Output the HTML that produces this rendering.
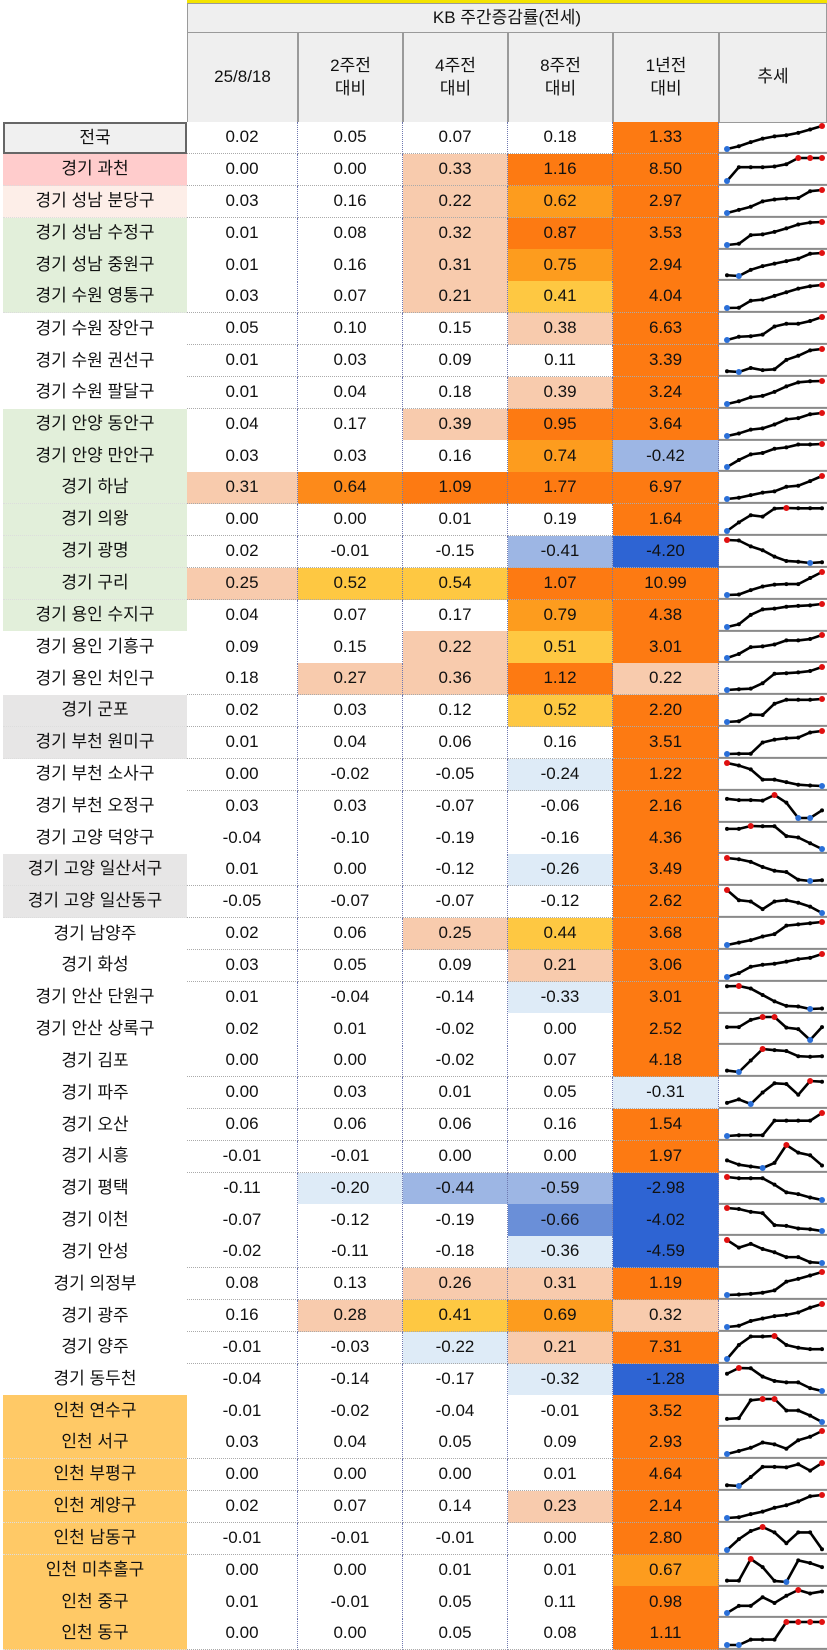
<!DOCTYPE html>
<html><head><meta charset="utf-8">
<style>
body{margin:0;width:827px;height:1650px;overflow:hidden;background:#fff;font-family:"Liberation Sans","Noto Sans CJK KR",sans-serif;color:#111}
#t{position:absolute;left:0;top:0;width:827px;height:1650px}
.c{position:absolute;box-sizing:border-box;display:flex;align-items:center;justify-content:center;font-size:17px;text-align:center;line-height:1.35}
.h{background:#efefef;border:1px solid #9a9a9a}
</style></head><body>
<div id="t">
<div class="c" style="left:187px;top:0;width:640px;height:3px;background:#f4e400"></div>
<div class="c h" style="left:187px;top:3px;width:640px;height:30px">KB 주간증감률(전세)</div>
</div>
<script>
const names=["전국","경기 과천","경기 성남 분당구","경기 성남 수정구","경기 성남 중원구","경기 수원 영통구","경기 수원 장안구","경기 수원 권선구","경기 수원 팔달구","경기 안양 동안구","경기 안양 만안구","경기 하남","경기 의왕","경기 광명","경기 구리","경기 용인 수지구","경기 용인 기흥구","경기 용인 처인구","경기 군포","경기 부천 원미구","경기 부천 소사구","경기 부천 오정구","경기 고양 덕양구","경기 고양 일산서구","경기 고양 일산동구","경기 남양주","경기 화성","경기 안산 단원구","경기 안산 상록구","경기 김포","경기 파주","경기 오산","경기 시흥","경기 평택","경기 이천","경기 안성","경기 의정부","경기 광주","경기 양주","경기 동두천","인천 연수구","인천 서구","인천 부평구","인천 계양구","인천 남동구","인천 미추홀구","인천 중구","인천 동구"];
const headers=["25/8/18","2주전<br>대비","4주전<br>대비","8주전<br>대비","1년전<br>대비","추세"];
const values=[
[0.02,0.05,0.07,0.18,1.33],[0.00,0.00,0.33,1.16,8.50],[0.03,0.16,0.22,0.62,2.97],[0.01,0.08,0.32,0.87,3.53],
[0.01,0.16,0.31,0.75,2.94],[0.03,0.07,0.21,0.41,4.04],[0.05,0.10,0.15,0.38,6.63],[0.01,0.03,0.09,0.11,3.39],
[0.01,0.04,0.18,0.39,3.24],[0.04,0.17,0.39,0.95,3.64],[0.03,0.03,0.16,0.74,-0.42],[0.31,0.64,1.09,1.77,6.97],
[0.00,0.00,0.01,0.19,1.64],[0.02,-0.01,-0.15,-0.41,-4.20],[0.25,0.52,0.54,1.07,10.99],[0.04,0.07,0.17,0.79,4.38],
[0.09,0.15,0.22,0.51,3.01],[0.18,0.27,0.36,1.12,0.22],[0.02,0.03,0.12,0.52,2.20],[0.01,0.04,0.06,0.16,3.51],
[0.00,-0.02,-0.05,-0.24,1.22],[0.03,0.03,-0.07,-0.06,2.16],[-0.04,-0.10,-0.19,-0.16,4.36],[0.01,0.00,-0.12,-0.26,3.49],
[-0.05,-0.07,-0.07,-0.12,2.62],[0.02,0.06,0.25,0.44,3.68],[0.03,0.05,0.09,0.21,3.06],[0.01,-0.04,-0.14,-0.33,3.01],
[0.02,0.01,-0.02,0.00,2.52],[0.00,0.00,-0.02,0.07,4.18],[0.00,0.03,0.01,0.05,-0.31],[0.06,0.06,0.06,0.16,1.54],
[-0.01,-0.01,0.00,0.00,1.97],[-0.11,-0.20,-0.44,-0.59,-2.98],[-0.07,-0.12,-0.19,-0.66,-4.02],[-0.02,-0.11,-0.18,-0.36,-4.59],
[0.08,0.13,0.26,0.31,1.19],[0.16,0.28,0.41,0.69,0.32],[-0.01,-0.03,-0.22,0.21,7.31],[-0.04,-0.14,-0.17,-0.32,-1.28],
[-0.01,-0.02,-0.04,-0.01,3.52],[0.03,0.04,0.05,0.09,2.93],[0.00,0.00,0.00,0.01,4.64],[0.02,0.07,0.14,0.23,2.14],
[-0.01,-0.01,-0.01,0.00,2.80],[0.00,0.00,0.01,0.01,0.67],[0.01,-0.01,0.05,0.11,0.98],[0.00,0.00,0.05,0.08,1.11]];
const cellColors=["wwwwo","wwpoo","wwpmo","wwpoo","wwpmo","wwpyo","wwwpo","wwwwo","wwwpo","wwpoo","wwwmB","pOooo","wwwwo","wwwBD","pyyoo","wwwmo","wwpyo","wppop","wwwyo","wwwwo","wwwlo","wwwwo","wwwwo","wwwlo","wwwwo","wwpyo","wwwpo","wwwlo","wwwwo","wwwwo","wwwwl","wwwwo","wwwwo","wlBBD","wwwCD","wwwlD","wwppo","wpymp","wwlpo","wwwlD","wwwwo","wwwwo","wwwwo","wwwpo","wwwwo","wwwwm","wwwwo","wwwwo"];
const labelGroups="gpqeeewwweeeeeeewwzzwwwzzwwwwwwwwwwwwwwwiiiiiiii";
const trends=[
[0,1.2,3,4.5,5.5,6,7,8.5,10],[0,6,6,6,6.3,7.3,10,10,10],[0,1.3,2.6,4.8,5.6,6,6.2,9,9.5],[0,0.5,4,4.3,5.3,6.7,8.3,9.1,9.3],
[0.3,0,2.5,4,5,6,7,9,9.3],[0,0.1,3,3.5,5,6.5,8,9,9.5],[0,1.2,1.4,2,5,6,6,7,8.5],[0.3,0,1.5,0.7,1,4.5,6,8,8.5],
[0,1,2.5,3,4.5,6.5,8,8.4,8.5],[0,1,2.5,3,4.5,6.5,7,8.5,9],[0,2.5,4.5,5,6.5,7,8,8,8.2],[0,0.5,1.5,2.5,3,4.8,5.2,7,9],
[0,3,5.5,5,7.8,8,7.9,7.9,7.9],[9,8.8,6.5,5,2.5,0.8,0.5,0,0.3],[0,0.2,2,3.5,4.3,4.5,4.5,7,9.5],[0,1,4.5,6.5,6.8,7.5,7.8,8,8.5],
[0,1.5,4,4.3,5,6.5,6.5,7,8.5],[0,0.3,0.5,2.5,6,6.2,6.5,7,8.5],[0,0.3,2.8,2.7,7,8.5,8.5,8.5,8.8],[0,0.1,0.1,4,5,5.5,5.7,7.5,8],
[9,8,6.5,2.5,2.5,1.5,0.5,0.2,0],[7.5,7,7,6.8,9,6,0,0,3],[7,7,8,7.9,7.9,4.5,4,2,0],[9,8.5,7.5,5.5,4,3.5,0.5,0,0.3],
[9,5,4.5,1.5,4.5,5,4,2.5,0],[0,1,2,3.5,4.5,8,8.5,9,9.5],[0,1.5,4,4.8,5.2,6,7,7.5,9],[8.9,9,8,5.5,3,1.2,1,0,0.2],
[4.5,4.5,7,8,8,4.3,3.8,0,4.5],[0.5,0,4,8,7.6,7.3,5.5,5.3,5.5],[0.5,2,0,5,9,8.7,4,10,9.7],[0,0.3,0.3,0.3,6,6,6,6,9],
[3,1.3,0.6,0,2,9,6,5,1],[9,8.5,8.5,8.5,6,3,2.3,1,0],[9,8.6,7.5,7,2.3,2,1,0.7,0],[9,6,7.5,5.5,4.2,2.3,2.3,0.3,0],
[0,0.2,0.5,1,2,5.8,7,8.5,10],[0,0.5,2.5,3.5,4.5,5,6,8,9.5],[0,5,8,8,8.2,5,4,3.5,3.5],[6,8,7.9,5,3.5,3,3,1,0],
[1.2,1.5,8.5,9,9,4.5,4.5,2.5,0],[0,1.3,2.7,5,4.2,2.3,6,7.5,10],[0.3,0,3.5,7.5,7.5,7.3,8.5,6,9],[0,0.3,1.5,2.5,4,5,6.5,8.5,9],
[0,4,7,8.5,6.5,2.5,6.5,6.5,0.3],[0.5,0.5,8.5,5.5,0.4,0,8,7,5.5],[0,2.5,2.5,5.5,3.5,6,8,6.8,7.5],[0,0,2,2,2,8.5,8.5,8.5,8.5]];

const palette={w:"#ffffff",p:"#f8cbad",o:"#fd7a12",O:"#fd8a1a",m:"#fd9c1e",y:"#fec842",l:"#deebf7",B:"#9db6e4",C:"#6a8fd8",D:"#2e64d3"};
const labelPalette={g:"#f0f0f0",p:"#ffcccc",q:"#fdeee8",e:"#e2efda",w:"#ffffff",z:"#e7e6e6",i:"#ffc966"};
const colX=[187,298,403,508,613,719,827];
const top0=122, rowH=(1650-122)/48;
const T=document.getElementById('t');
function mk(cls,l,t,w,h,html,bg){const d=document.createElement('div');d.className=cls;d.style.cssText=`left:${l}px;top:${t}px;width:${w}px;height:${h}px;`+(bg?`background:${bg};`:'');d.innerHTML=html;T.appendChild(d);return d;}
headers.forEach((h,i)=>{
  const d=mk('c h',colX[i],32,colX[i+1]-colX[i],91,h);
  
  
});
const NS="http://www.w3.org/2000/svg";
names.forEach((n,r)=>{
  const y=top0+r*rowH;
  const g=labelGroups[r];
  const lab=mk('c',3,y,184,rowH+0.5,n,labelPalette[g]);
  if(g==='g'){lab.style.border='2px solid #666';}
  else if(g!=='w'){lab.style.borderBottom='1px dotted #ddd';}
  
  
  for(let c=0;c<5;c++){
    const v=values[r][c];
    const d=mk('c',colX[c],y,colX[c+1]-colX[c],rowH+0.5,v.toFixed(2),palette[cellColors[r][c]]);
    d.style.borderRight='1px dotted #6f78b0';d.style.borderBottom='1px dotted #aaa';
    
    
  }
  const svg=document.createElementNS(NS,'svg');
  svg.setAttribute('width',108);svg.setAttribute('height',Math.ceil(rowH));
  svg.style.cssText=`position:absolute;left:719px;top:${y}px`;
  
  
  const arr=trends[r];const mx=Math.max(...arr),mn=Math.min(...arr);
  const sx=i=>8+i*(108-13)/(arr.length-1);
  const sy=v=>4+(1-(v-mn)/((mx-mn)||1))*23;
  const ln=document.createElementNS(NS,'line');
  ln.setAttribute('x1',0);ln.setAttribute('x2',108);ln.setAttribute('y1',rowH-1);ln.setAttribute('y2',rowH-1);
  ln.setAttribute('stroke','#8a8a8a');ln.setAttribute('stroke-width',2);
  svg.appendChild(ln);
  const pl=document.createElementNS(NS,'polyline');
  pl.setAttribute('points',arr.map((v,i)=>sx(i)+','+sy(v)).join(' '));
  pl.setAttribute('fill','none');pl.setAttribute('stroke','#000');pl.setAttribute('stroke-width',2.6);pl.setAttribute('stroke-linejoin','round');
  
  
  svg.appendChild(pl);
  arr.forEach((v,i)=>{
    const ci=document.createElementNS(NS,'circle');
    ci.setAttribute('cx',sx(i));ci.setAttribute('cy',sy(v));
    const col=v===mx?'#e01010':(v===mn?'#2a6fd8':'#000');
    ci.setAttribute('r',col==='#000'?2:3);ci.setAttribute('fill',col);
    
    
    svg.appendChild(ci);
  });
  T.appendChild(svg);
});
</script>
</body></html>
